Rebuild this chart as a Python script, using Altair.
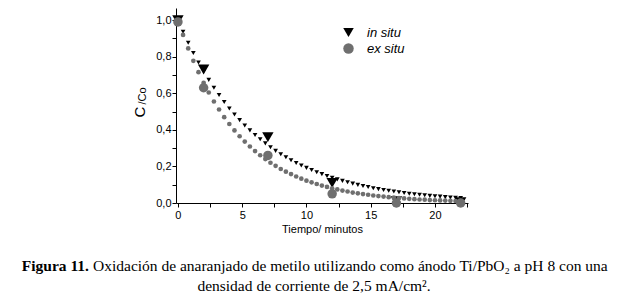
import altair as alt
import pandas as pd

# ---- data ----
fit_time = [0.0, 0.4, 0.8, 1.2, 1.6, 2.0, 2.4, 2.8, 3.2, 3.6, 4.0, 4.4, 4.8, 5.2,
            5.6, 6.0, 6.4, 6.8, 7.2, 7.6, 8.0, 8.4, 8.8, 9.2, 9.6, 10.0, 10.4,
            10.8, 11.2, 11.6, 12.0, 12.4, 12.8, 13.2, 13.6, 14.0, 14.4, 14.8,
            15.2, 15.6, 16.0, 16.4, 16.8, 17.2, 17.6, 18.0, 18.4, 18.8, 19.2,
            19.6, 20.0, 20.4, 20.8, 21.2, 21.6, 22.0]
fit_in_situ = [1.000, 0.936, 0.876, 0.820, 0.768, 0.719, 0.673, 0.630, 0.590,
               0.552, 0.517, 0.484, 0.453, 0.424, 0.397, 0.372, 0.348, 0.326,
               0.305, 0.285, 0.267, 0.250, 0.234, 0.219, 0.205, 0.192, 0.180,
               0.168, 0.158, 0.148, 0.138, 0.129, 0.121, 0.113, 0.106, 0.099,
               0.093, 0.087, 0.081, 0.076, 0.071, 0.067, 0.063, 0.059, 0.055,
               0.051, 0.048, 0.045, 0.042, 0.039, 0.037, 0.035, 0.032, 0.030,
               0.028, 0.027]
fit_ex_situ = [1.000, 0.919, 0.845, 0.777, 0.715, 0.657, 0.604, 0.555, 0.511,
               0.469, 0.432, 0.397, 0.365, 0.336, 0.309, 0.284, 0.261, 0.240,
               0.220, 0.203, 0.186, 0.171, 0.158, 0.145, 0.133, 0.122, 0.113,
               0.104, 0.095, 0.088, 0.080, 0.074, 0.068, 0.063, 0.057, 0.053,
               0.049, 0.045, 0.041, 0.038, 0.035, 0.032, 0.029, 0.027, 0.025,
               0.023, 0.021, 0.019, 0.018, 0.016, 0.015, 0.014, 0.013, 0.012,
               0.011, 0.010]

exp_time = [0, 2, 7, 12, 17, 22]
exp_in_situ = [1.00, 0.73, 0.36, 0.11, 0.01, 0.005]
exp_ex_situ = [0.99, 0.63, 0.26, 0.05, 0.00, 0.00]

series = ["in situ", "ex situ"]
colors = ["#000000", "#6f6f6f"]
shapes = ["triangle-down", "circle"]

x_ticks = [0, 2.5, 5, 7.5, 10, 12.5, 15, 17.5, 20, 22.5]
y_ticks = [0.0, 0.1, 0.2, 0.3, 0.4, 0.5, 0.6, 0.7, 0.8, 0.9, 1.0]

caption_bold = "Figura 11."
caption_rest = "Oxidación de anaranjado de metilo utilizando como ánodo Ti/PbO₂ a pH 8 con una"
caption_line2 = "densidad de corriente de 2,5 mA/cm²."

# ---- tables ----
fit_df = pd.DataFrame({"t": fit_time, "in situ": fit_in_situ, "ex situ": fit_ex_situ})
exp_df = pd.DataFrame({"t": exp_time, "in situ": exp_in_situ, "ex situ": exp_ex_situ})
fit_long = fit_df.melt("t", var_name="serie", value_name="c")
exp_long = exp_df.melt("t", var_name="serie", value_name="c")

W, H = 292, 195
xs = alt.Scale(domain=[-0.15, 22.57], nice=False, zero=False)
ys = alt.Scale(domain=[0, 1.066], nice=False)

x_axis = alt.Axis(values=x_ticks, labelExpr="datum.value % 5 == 0 ? format(datum.value, 'd') : ''",
                  title="Tiempo/ minutos", titlePadding=3, tickSize=4, labelPadding=2)
y_axis = alt.Axis(values=y_ticks,
                  labelExpr="round(datum.value*10) % 2 == 0 ? replace(format(datum.value, '.1f'), '.', ',') : ''",
                  title=None, tickSize=4, labelPadding=1)

color_scale = alt.Scale(domain=series, range=colors)
shape_scale = alt.Scale(domain=series, range=shapes)

def small(name, color, shape, size):
    return alt.Chart(fit_long).transform_filter(alt.datum.serie == name).mark_point(
        filled=True, opacity=1, color=color, shape=shape, size=size
    ).encode(x=alt.X("t:Q", scale=xs, axis=x_axis), y=alt.Y("c:Q", scale=ys, axis=y_axis))

def big(name, size, legend):
    return alt.Chart(exp_long).transform_filter(alt.datum.serie == name).mark_point(
        filled=True, opacity=1, size=size
    ).encode(
        x=alt.X("t:Q", scale=xs, axis=x_axis),
        y=alt.Y("c:Q", scale=ys, axis=y_axis),
        color=alt.Color("serie:N", scale=color_scale, legend=legend),
        shape=alt.Shape("serie:N", scale=shape_scale, legend=legend),
    )

legend = alt.Legend(title=None, orient="none", legendX=166, legendY=18, padding=0,
                    labelFont="Liberation Sans", labelFontSize=13, labelFontStyle="italic",
                    symbolSize=110, labelOffset=12, rowPadding=2, symbolStrokeWidth=0)

one = pd.DataFrame({"k": [0]})

def txt(text, x, y, size, align="center", weight="normal", font="Liberation Serif", angle=0):
    return alt.Chart(one).mark_text(text=text, fontSize=size, align=align, baseline="middle",
                                    fontWeight=weight, font=font, angle=angle, color="black").encode(
        x=alt.value(x), y=alt.value(y))

layers = [
    small("in situ", colors[0], "triangle-down", 22),
    big("in situ", 130, legend),
    small("ex situ", colors[1], "circle", 22),
    big("ex situ", 90, legend),
    txt("C", -36, 104, 15, font="Liberation Sans", angle=270),
    txt("/Co", -33, 88, 11, font="Liberation Sans", angle=270),
    txt(caption_bold, -87, 258, 15.5, align="right", weight="bold"),
    txt(caption_rest, -83, 258, 15.5, align="left"),
    txt(caption_line2, 138, 278, 15.5),
]

chart = alt.layer(*layers).properties(
    width=W, height=H,
    autosize=alt.AutoSizeParams(type="none"),
    padding={"left": 168, "top": 0, "right": 154, "bottom": 97},
).configure_view(stroke=None).configure_axis(
    grid=False, domainColor="black", tickColor="black", labelColor="black",
    labelFont="Liberation Sans", labelFontSize=11, titleFont="Liberation Sans",
    titleFontSize=11, titleFontWeight="normal", titleColor="black",
).resolve_scale(color="shared", shape="shared")

chart.save("out.html", embed_options={"renderer": "svg", "actions": False})
